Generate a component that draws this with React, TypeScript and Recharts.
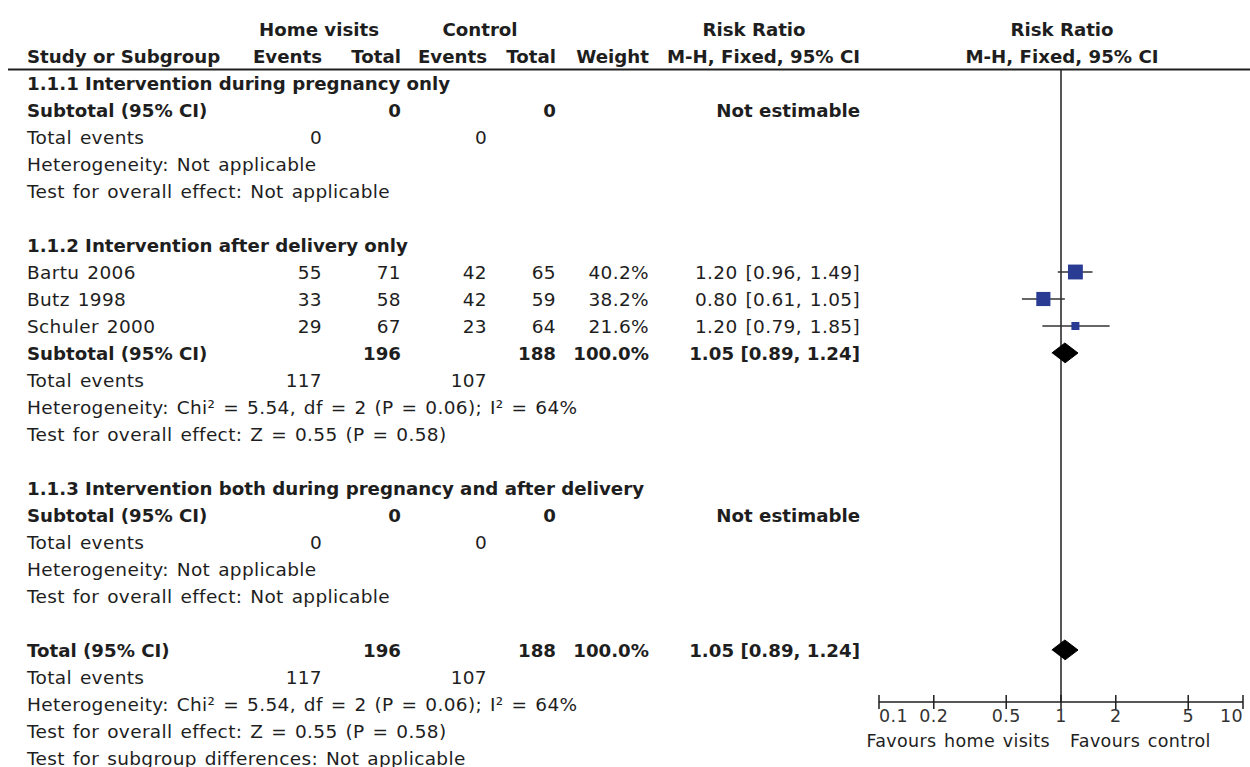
import React from 'react';
import { ScatterChart, Scatter, XAxis, YAxis, ErrorBar, ReferenceLine } from 'recharts';

// studies in subgroup 1.1.2
const STUDIES = ['Bartu 2006', 'Butz 1998', 'Schuler 2000'];
const HV_EVENTS = [55, 33, 29];
const HV_TOTAL = [71, 58, 67];
const CTRL_EVENTS = [42, 42, 23];
const CTRL_TOTAL = [65, 59, 64];
const WEIGHTS = [40.2, 38.2, 21.6];
const RR = [1.2, 0.8, 1.2];
const RR_LO = [0.96, 0.61, 0.79];
const RR_HI = [1.49, 1.05, 1.85];

// pooled estimate (est, lo, hi), same for subtotal 1.1.2 and overall
const POOLED = [1.05, 0.89, 1.24];
const POOLED_TOTALS = [196, 188];
const POOLED_EVENTS = [117, 107];

const X_TICKS = [0.1, 0.2, 0.5, 1, 2, 5, 10];

const W = 1250;
const H = 767;
const ROW_H = 27;
const FIRST_ROW_Y = 83;
const PLOT_TOP = 70;
const PLOT_BOTTOM = 702;
const STUDY_ROW0 = 7;
const SUBTOTAL_ROW = 10;
const TOTAL_ROW = 21;

const BLUE = '#2a3b94';
const INK = '#1e1e1e';
const FONT = '"DejaVu Sans", sans-serif';
const FS = 18.5;
const FS_BOLD = 18.2;
const LS = 0.35;
const WS = 1.7;
const PX_PER_PCT = 0.37;
const DIAMOND_HALF = 10 / ROW_H;

// column anchors (right aligned except label)
const COL = { label: 27, hvE: 322, hvT: 401, cE: 487, cT: 556, wt: 649, rr: 860 };

const rowY = (r: number) => FIRST_ROW_Y + ROW_H * r;
const fmt2 = (v: number) => v.toFixed(2);
const ciText = (e: number, l: number, h: number) => `${fmt2(e)} [${fmt2(l)}, ${fmt2(h)}]`;

type Row = { r: number; bold?: boolean; label?: string; hvE?: string; hvT?: string; cE?: string; cT?: string; wt?: string; rr?: string };

const het = 'Heterogeneity: Chi² = 5.54, df = 2 (P = 0.06); I² = 64%';
const overall = 'Test for overall effect: Z = 0.55 (P = 0.58)';

const ROWS: Row[] = [
  { r: 0, bold: true, label: '1.1.1 Intervention during pregnancy only' },
  { r: 1, bold: true, label: 'Subtotal (95% CI)', hvT: '0', cT: '0', rr: 'Not estimable' },
  { r: 2, label: 'Total events', hvE: '0', cE: '0' },
  { r: 3, label: 'Heterogeneity: Not applicable' },
  { r: 4, label: 'Test for overall effect: Not applicable' },
  { r: 6, bold: true, label: '1.1.2 Intervention after delivery only' },
  ...STUDIES.map((s, i) => ({
    r: STUDY_ROW0 + i, label: s,
    hvE: String(HV_EVENTS[i]), hvT: String(HV_TOTAL[i]),
    cE: String(CTRL_EVENTS[i]), cT: String(CTRL_TOTAL[i]),
    wt: `${WEIGHTS[i].toFixed(1)}%`, rr: ciText(RR[i], RR_LO[i], RR_HI[i]),
  })),
  { r: SUBTOTAL_ROW, bold: true, label: 'Subtotal (95% CI)', hvT: String(POOLED_TOTALS[0]), cT: String(POOLED_TOTALS[1]), wt: '100.0%', rr: ciText(POOLED[0], POOLED[1], POOLED[2]) },
  { r: 11, label: 'Total events', hvE: String(POOLED_EVENTS[0]), cE: String(POOLED_EVENTS[1]) },
  { r: 12, label: het },
  { r: 13, label: overall },
  { r: 15, bold: true, label: '1.1.3 Intervention both during pregnancy and after delivery' },
  { r: 16, bold: true, label: 'Subtotal (95% CI)', hvT: '0', cT: '0', rr: 'Not estimable' },
  { r: 17, label: 'Total events', hvE: '0', cE: '0' },
  { r: 18, label: 'Heterogeneity: Not applicable' },
  { r: 19, label: 'Test for overall effect: Not applicable' },
  { r: TOTAL_ROW, bold: true, label: 'Total (95% CI)', hvT: String(POOLED_TOTALS[0]), cT: String(POOLED_TOTALS[1]), wt: '100.0%', rr: ciText(POOLED[0], POOLED[1], POOLED[2]) },
  { r: 22, label: 'Total events', hvE: String(POOLED_EVENTS[0]), cE: String(POOLED_EVENTS[1]) },
  { r: 23, label: het },
  { r: 24, label: overall },
  { r: 25, label: 'Test for subgroup differences: Not applicable' },
];

const studyData = STUDIES.map((_, i) => ({
  x: RR[i], y: STUDY_ROW0 + i, w: WEIGHTS[i], err: [RR[i] - RR_LO[i], RR_HI[i] - RR[i]],
}));

const diamond = (row: number) => [
  { x: POOLED[1], y: row },
  { x: POOLED[0], y: row - DIAMOND_HALF },
  { x: POOLED[2], y: row },
  { x: POOLED[0], y: row + DIAMOND_HALF },
];

const Square = (p: any) => {
  const s = p.payload.w * PX_PER_PCT;
  return <rect x={p.cx - s / 2} y={p.cy - s / 2} width={s} height={s} fill={BLUE} />;
};
const Nothing = () => <g />;

const AxisTick = (p: any) => {
  const { x, y, payload, index } = p;
  const anchor = index === 0 ? 'start' : index === X_TICKS.length - 1 ? 'end' : 'middle';
  return (
    <g>
      <line x1={x} x2={x} y1={y - 7} y2={y + 7} stroke={INK} strokeWidth={1.5} />
      <text x={x} y={y + 14} textAnchor={anchor} dominantBaseline="central" fontFamily={FONT} fontSize={17.5}
        letterSpacing={LS} fill="#333">
        {payload.value}
      </text>
    </g>
  );
};

const T = (props: { x: number; y: number; anchor?: 'start' | 'middle' | 'end'; bold?: boolean; children: React.ReactNode; size?: number }) => (
  <text x={props.x} y={props.y} textAnchor={props.anchor || 'start'} dominantBaseline="central"
    fontFamily={FONT} fontSize={props.size || (props.bold ? FS_BOLD : FS)} fontWeight={props.bold ? 700 : 400}
    letterSpacing={props.bold ? 0 : LS} wordSpacing={props.bold ? 0 : WS} fill={INK}>
    {props.children}
  </text>
);

export default function App() {
  const h1 = rowY(-2);
  const h2 = rowY(-1);
  return (
    <div style={{ position: 'relative', width: W, height: H, background: '#fff' }}>
      <style>{'body{margin:0}'}</style>
      <div style={{ position: 'absolute', left: 0, top: 0 }}>
        <ScatterChart width={W} height={H} margin={{ top: PLOT_TOP, right: W - 1243, bottom: 5, left: 879 }}>
          <XAxis type="number" dataKey="x" scale="log" domain={[0.1, 10]} ticks={X_TICKS} allowDataOverflow
            height={H - 5 - PLOT_BOTTOM} tickSize={0} tickMargin={0} tickLine={false}
            axisLine={{ stroke: INK, strokeWidth: 1.5 }} tick={<AxisTick />} interval={0} />
          <YAxis type="number" dataKey="y" hide reversed allowDataOverflow
            domain={[(PLOT_TOP - FIRST_ROW_Y) / ROW_H, (PLOT_BOTTOM - FIRST_ROW_Y) / ROW_H]} />
          <ReferenceLine x={1} stroke={INK} strokeWidth={1.5} />
          <Scatter data={studyData} shape={<Nothing />} isAnimationActive={false}>
            <ErrorBar dataKey="err" direction="x" width={0} stroke="#333" strokeWidth={1.5} />
          </Scatter>
          <Scatter data={studyData} shape={<Square />} isAnimationActive={false} />
          <Scatter data={diamond(SUBTOTAL_ROW)} shape={<Nothing />} line={{ fill: '#000', stroke: '#000', strokeWidth: 1 }}
            lineJointType="linear" isAnimationActive={false} />
          <Scatter data={diamond(TOTAL_ROW)} shape={<Nothing />} line={{ fill: '#000', stroke: '#000', strokeWidth: 1 }}
            lineJointType="linear" isAnimationActive={false} />
        </ScatterChart>
      </div>
      <svg width={W} height={H} style={{ position: 'absolute', left: 0, top: 0, pointerEvents: 'none' }}>
        {/* column headers */}
        <T x={319} y={h1} anchor="middle" bold>Home visits</T>
        <T x={480} y={h1} anchor="middle" bold>Control</T>
        <T x={754} y={h1} anchor="middle" bold>Risk Ratio</T>
        <T x={1062} y={h1} anchor="middle" bold>Risk Ratio</T>
        <T x={COL.label} y={h2} bold>Study or Subgroup</T>
        <T x={COL.hvE} y={h2} anchor="end" bold>Events</T>
        <T x={COL.hvT} y={h2} anchor="end" bold>Total</T>
        <T x={COL.cE} y={h2} anchor="end" bold>Events</T>
        <T x={COL.cT} y={h2} anchor="end" bold>Total</T>
        <T x={COL.wt} y={h2} anchor="end" bold>Weight</T>
        <T x={COL.rr} y={h2} anchor="end" bold>M-H, Fixed, 95% CI</T>
        <T x={1062} y={h2} anchor="middle" bold>M-H, Fixed, 95% CI</T>
        <line x1={8} x2={W} y1={69.5} y2={69.5} stroke={INK} strokeWidth={2} />

        {ROWS.map((row) => {
          const y = rowY(row.r);
          return (
            <g key={row.r}>
              {row.label && <T x={COL.label} y={y} bold={row.bold}>{row.label}</T>}
              {row.hvE && <T x={COL.hvE} y={y} anchor="end" bold={row.bold}>{row.hvE}</T>}
              {row.hvT && <T x={COL.hvT} y={y} anchor="end" bold={row.bold}>{row.hvT}</T>}
              {row.cE && <T x={COL.cE} y={y} anchor="end" bold={row.bold}>{row.cE}</T>}
              {row.cT && <T x={COL.cT} y={y} anchor="end" bold={row.bold}>{row.cT}</T>}
              {row.wt && <T x={COL.wt} y={y} anchor="end" bold={row.bold}>{row.wt}</T>}
              {row.rr && <T x={COL.rr} y={y} anchor="end" bold={row.bold}>{row.rr}</T>}
            </g>
          );
        })}

        <T x={1050} y={741} anchor="end" size={17.5}>Favours home visits</T>
        <T x={1070} y={741} size={17.5}>Favours control</T>
      </svg>
    </div>
  );
}
